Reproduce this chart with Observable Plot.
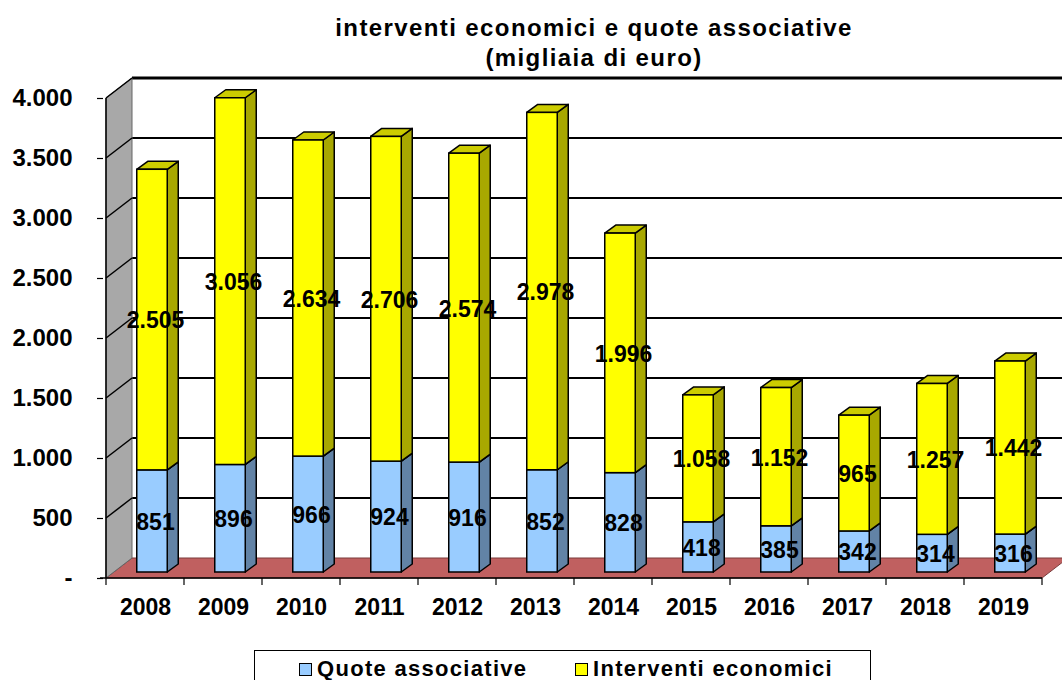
<!DOCTYPE html>
<html><head><meta charset="utf-8">
<script src="https://cdn.jsdelivr.net/npm/d3@7"></script>
<script src="https://cdn.jsdelivr.net/npm/@observablehq/plot@0.6"></script>
<style>
body{margin:0;background:#fff;font-family:"Liberation Sans",Arial,sans-serif;}
#wrap{position:relative;width:1062px;height:680px;overflow:hidden;background:#fff;}
#title{position:absolute;left:0;top:13px;width:1188px;text-align:center;font-weight:bold;font-size:24px;line-height:30px;letter-spacing:1.4px;color:#000;}
#chart{position:absolute;left:0;top:0;}
#legend{position:absolute;left:254px;top:650px;width:617px;height:40px;border:1px solid #000;box-sizing:border-box;background:#fff;}
.item{position:absolute;top:7px;font-weight:bold;font-size:22px;letter-spacing:1.3px;line-height:22px;display:flex;align-items:center;}
.sw{width:11px;height:11px;border:1px solid #000;margin-right:5px;display:inline-block;}
</style></head>
<body><div id="wrap">
<div id="title">interventi economici e quote associative<br>(migliaia di euro)</div>
<div id="chart"></div>
<div id="legend"></div>
</div>
<script>
// ---- data ----
const years = ["2008","2009","2010","2011","2012","2013","2014","2015","2016","2017","2018","2019"];
const quote = [851, 896, 966, 924, 916, 852, 828, 418, 385, 342, 314, 316];
const interventi = [2505, 3056, 2634, 2706, 2574, 2978, 1996, 1058, 1152, 965, 1257, 1442];
const seriesNames = ["Quote associative", "Interventi economici"];
const yTicks = [0, 500, 1000, 1500, 2000, 2500, 3000, 3500, 4000];

// ---- styles ----
const frontColors = ["#99CCFF", "#FFFF00"];
const sideColors = ["#6283A6", "#A8A800"];
const topColors = ["#7FAAD4", "#CCCC00"];
const WALL = {dx: 26, dy: -20};
const BAR = {dx: 7, dy: -6, ddx: 11, ddy: -8, inset: 23.75};

const table = years.flatMap((yr, i) => [
  {year: yr, series: seriesNames[0], value: quote[i]},
  {year: yr, series: seriesNames[1], value: interventi[i]}
]);
const series = [quote, interventi];

const itFmt = v => d3.format(",")(v).replace(/,/g, ".");
const axisFmt = v => v === 0 ? "-" : itFmt(v);

function getScales(args) {
  return args.find(a => a && typeof a.x === "function" && typeof a.y === "function");
}
function bandw(x) { return typeof x.bandwidth === "function" ? x.bandwidth() : x.bandwidth; }
const pts = p => p.map(q => q.join(",")).join(" ");

function backdrop(...args) {
  const {x, y} = getScales(args);
  const bw = bandw(x);
  const xa = x(years[0]), xb = x(years[years.length - 1]) + bw;
  const y0 = y(0), yT = y(yTicks[yTicks.length - 1]);
  const g = d3.create("svg:g");
  // floor
  g.append("polygon").attr("points", pts([[xa, y0], [xb, y0], [xb + WALL.dx, y0 + WALL.dy], [xa + WALL.dx, y0 + WALL.dy]]))
    .attr("fill", "#C06060").attr("stroke", "#7a3a3a").attr("stroke-width", 1);
  // back wall gridlines
  for (const t of yTicks) {
    if (t === 0) continue;
    g.append("line").attr("x1", xa + WALL.dx).attr("x2", xb + WALL.dx + 40)
      .attr("y1", y(t) + WALL.dy).attr("y2", y(t) + WALL.dy)
      .attr("stroke", "#000").attr("stroke-width", t === yTicks[yTicks.length - 1] ? 3 : 2);
  }
  // left wall
  g.append("polygon").attr("points", pts([[xa, y0], [xa, yT], [xa + WALL.dx, yT + WALL.dy], [xa + WALL.dx, y0 + WALL.dy]]))
    .attr("fill", "#A8A8A8").attr("stroke", "#666").attr("stroke-width", 1);
  for (const t of yTicks) {
    if (t === 0) continue;
    g.append("line").attr("x1", xa).attr("x2", xa + WALL.dx)
      .attr("y1", y(t)).attr("y2", y(t) + WALL.dy)
      .attr("stroke", "#000").attr("stroke-width", 1.5);
  }
  // axis lines
  g.append("line").attr("x1", xa).attr("x2", xa).attr("y1", yT).attr("y2", y0).attr("stroke", "#000").attr("stroke-width", 1.5);
  g.append("line").attr("x1", xa - 6).attr("x2", xb).attr("y1", y0).attr("y2", y0).attr("stroke", "#000").attr("stroke-width", 1.5);
  for (let i = 0; i <= years.length; i++) {
    const xx = xa + i * bw;
    g.append("line").attr("x1", xx).attr("x2", xx).attr("y1", y0).attr("y2", y0 + 7).attr("stroke", "#000").attr("stroke-width", 1.2);
  }
  return g.node();
}

function bars3d(...args) {
  const {x, y} = getScales(args);
  const bw = bandw(x);
  const g = d3.create("svg:g").attr("stroke", "#000").attr("stroke-width", 1.5).attr("stroke-linejoin", "round");
  years.forEach((yr, i) => {
    const xl = x(yr) + BAR.inset + BAR.dx;
    const xr = x(yr) + bw - BAR.inset + BAR.dx;
    let base = 0;
    series.forEach((s, k) => {
      const top = base + s[i];
      const yb = y(base) + BAR.dy, yt = y(top) + BAR.dy;
      g.append("polygon").attr("points", pts([[xr, yt], [xr + BAR.ddx, yt + BAR.ddy], [xr + BAR.ddx, yb + BAR.ddy], [xr, yb]]))
        .attr("fill", sideColors[k]);
      g.append("polygon").attr("points", pts([[xl, yt], [xr, yt], [xr + BAR.ddx, yt + BAR.ddy], [xl + BAR.ddx, yt + BAR.ddy]]))
        .attr("fill", topColors[k]);
      base = top;
    });
  });
  return g.node();
}

const chart = Plot.plot({
  width: 1062,
  height: 640,
  marginLeft: 103,
  marginRight: 17,
  marginTop: 98,
  marginBottom: 62,
  style: {fontFamily: "'Liberation Sans', Arial, sans-serif", fontWeight: "bold", fontSize: "22px", background: "transparent", color: "#000"},
  x: {type: "band", domain: years, padding: 0, axis: null},
  y: {domain: [0, yTicks[yTicks.length - 1]], axis: null},
  color: {domain: seriesNames, range: frontColors},
  marks: [
    backdrop,
    bars3d,
    Plot.barY(table, Plot.stackY({x: "year", y: "value", fill: "series", insetLeft: BAR.inset, insetRight: BAR.inset, dx: BAR.dx, dy: BAR.dy, stroke: "#000", strokeWidth: 1.5})),
    Plot.text(table, Plot.stackY({x: "year", y: "value", text: d => itFmt(d.value), dx: 10, dy: -5, fontSize: 23, fontWeight: "bold", fill: "#000"})),
    Plot.axisY({ticks: yTicks, tickSize: 6, tickPadding: 25, tickFormat: axisFmt, fontSize: 24, fontWeight: "bold", label: null, strokeWidth: 1.2}),
    Plot.axisX({tickSize: 0, tickPadding: 20, label: null, fontSize: 23, fontWeight: "bold"})
  ]
});
document.getElementById("chart").appendChild(chart);

// legend
const legend = document.getElementById("legend");
const legendPos = [44, 320];
seriesNames.forEach((name, k) => {
  const it = document.createElement("div");
  it.className = "item";
  it.style.left = legendPos[k] + "px";
  const sw = document.createElement("span");
  sw.className = "sw";
  sw.style.background = frontColors[k];
  it.appendChild(sw);
  it.appendChild(document.createTextNode(name));
  legend.appendChild(it);
});
</script>
</body></html>
